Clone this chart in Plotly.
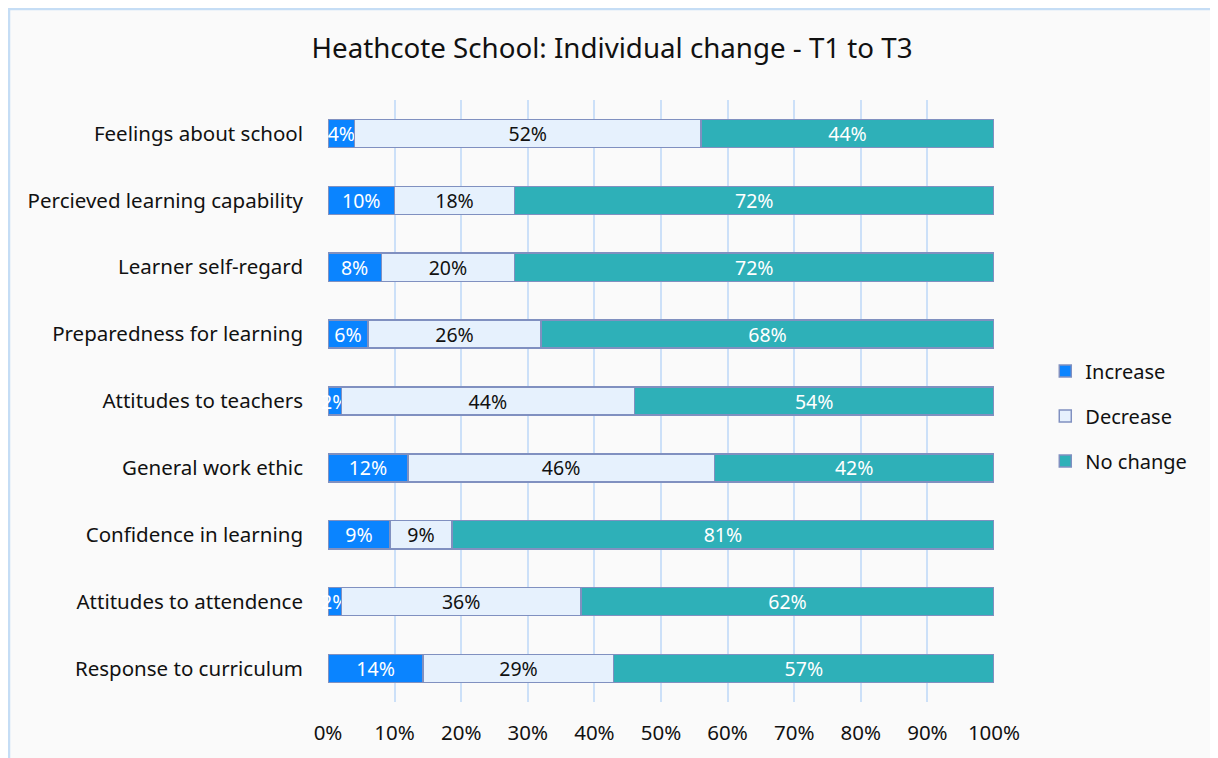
import plotly.graph_objects as go

categories = [
    "Feelings about school",
    "Percieved learning capability",
    "Learner self-regard",
    "Preparedness for learning",
    "Attitudes to teachers",
    "General work ethic",
    "Confidence in learning",
    "Attitudes to attendence",
    "Response to curriculum",
]
increase = [4, 10, 8, 6, 2, 12, 9.3, 2, 14.3]
decrease = [52, 18, 20, 26, 44, 46, 9.3, 36, 28.6]
no_change = [44, 72, 72, 68, 54, 42, 81.4, 62, 57.1]
x_ticks = [0, 10, 20, 30, 40, 50, 60, 70, 80, 90, 100]
x_tick_labels = [f"{v}%" for v in x_ticks]

FONT = "Noto Sans"
series = [
    ("Increase", increase, "#0A84FF", "white"),
    ("Decrease", decrease, "#E6F1FD", "#111111"),
    ("No change", no_change, "#2EB0B8", "white"),
]

fig = go.Figure()
for i, (name, vals, color, tcolor) in enumerate(series):
    fig.add_trace(go.Bar(
        y=categories, x=vals, name=name, orientation="h",
        marker=dict(color=color, line=dict(color="#8090C0", width=1.5)),
        text=[f"{v:.0f}%" for v in vals],
        textposition="inside", insidetextanchor="middle",
        constraintext="none", textangle=0,
        textfont=dict(family=FONT, size=19.5, color=tcolor),
        legendgroup=f"g{i}", cliponaxis=False,
        hoverinfo="skip",
    ))

fig.add_shape(type="rect", xref="paper", yref="paper",
              x0=(9 - 328) / 666, x1=(1216 - 328) / 666,
              y0=-0.12, y1=(702 - 9) / 602,
              line=dict(color="#C5DDF5", width=2.5), fillcolor="#FAFAFA",
              layer="below")

# page is offset by 8px body margin -> compensate
fig.update_layout(
    width=1210, height=750,
    barmode="stack", bargap=0.58,
    paper_bgcolor="white", plot_bgcolor="rgba(0,0,0,0)",
    margin=dict(l=320, r=224, t=92, b=56),
    title=dict(text="Heathcote School: Individual change - T1 to T3",
               x=604 / 1210, xref="container", xanchor="center",
               y=(750 - 40) / 750, yanchor="middle",
               font=dict(family=FONT, size=27.7, color="#111111")),
    font=dict(family=FONT, size=20.5, color="#111111"),
    legend=dict(x=1.077, xanchor="left", y=0.475, yanchor="middle",
                bgcolor="rgba(0,0,0,0)", traceorder="grouped",
                tracegroupgap=16, font=dict(family=FONT, size=20, color="#111111")),
    showlegend=True,
)
fig.update_xaxes(range=[0, 100], tickvals=x_ticks, ticktext=x_tick_labels,
                 showgrid=True, gridcolor="#CCE0F8", gridwidth=2,
                 zeroline=False, showline=False, ticks="",
                 ticklabelstandoff=16, fixedrange=True)
fig.update_yaxes(categoryorder="array", categoryarray=categories[::-1],
                 showgrid=False, zeroline=False, showline=False, ticks="",
                 ticklabelstandoff=24, fixedrange=True)

fig.write_html("out.html")
